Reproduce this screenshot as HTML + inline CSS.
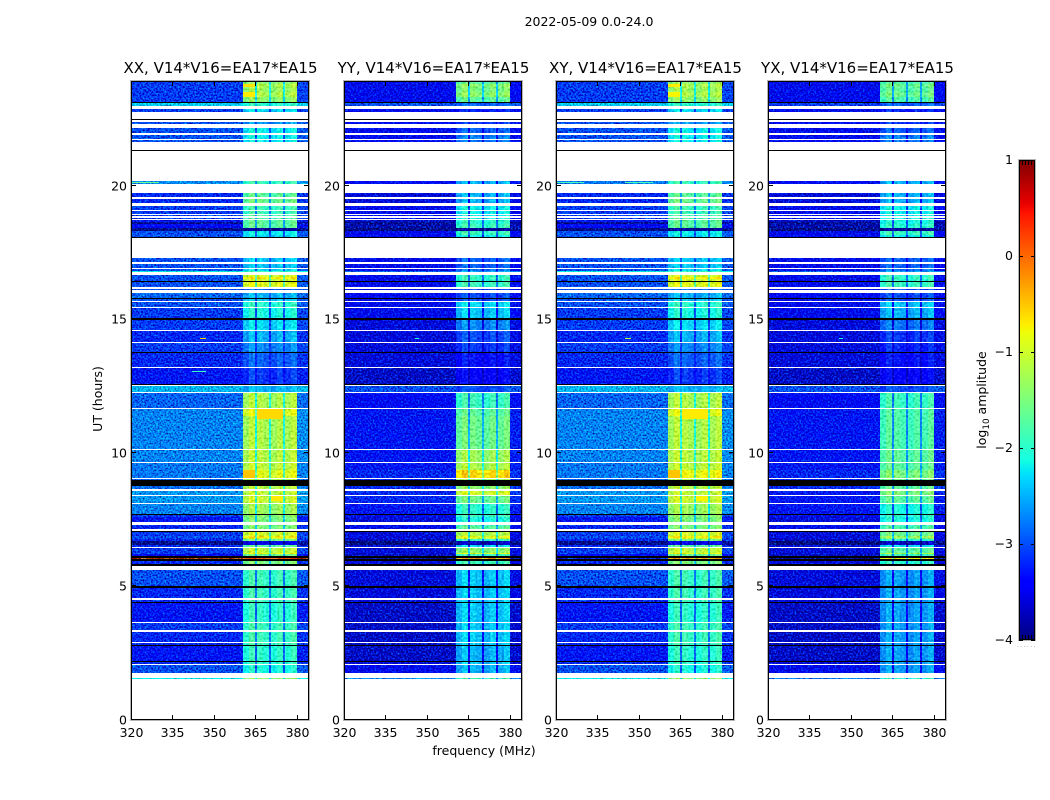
<!DOCTYPE html>
<html lang="en">
<head>
<meta charset="utf-8">
<title>2022-05-09 0.0-24.0</title>
<style>
html,body{margin:0;padding:0;background:#fff;}
svg{display:block;}
text{font-family:"DejaVu Sans","Liberation Sans",sans-serif;fill:#000;}
</style>
</head>
<body>
<svg id="fig" xmlns="http://www.w3.org/2000/svg" width="1050" height="800" viewBox="0 0 1050 800">
<defs>
<filter id="speckle" x="0" y="0" width="100%" height="100%" color-interpolation-filters="sRGB">
<feTurbulence type="fractalNoise" baseFrequency="0.6" numOctaves="1" seed="7" result="t"/>
<feColorMatrix in="t" type="matrix" values="0.5 0 0 0 0  1 0 0 0 0  1 0 0 0 0  0 0 0 0 1" result="g"/>
<feComposite in="SourceGraphic" in2="g" operator="arithmetic" k1="0" k2="1" k3="1.4" k4="-0.7" result="m"/>
<feComposite in="m" in2="SourceAlpha" operator="in"/>
</filter>
<filter id="speckle-band" x="0" y="0" width="100%" height="100%" color-interpolation-filters="sRGB">
<feTurbulence type="fractalNoise" baseFrequency="0.45" numOctaves="1" seed="11" result="t"/>
<feColorMatrix in="t" type="matrix" values="1 0 0 0 0  1 0 0 0 0  1 0 0 0 0  0 0 0 0 1" result="g"/>
<feComposite in="SourceGraphic" in2="g" operator="arithmetic" k1="0" k2="1" k3="0.6" k4="-0.3" result="m"/>
<feComposite in="m" in2="SourceAlpha" operator="in"/>
</filter>
</defs>
<text x="589" y="26" font-size="12.5" text-anchor="middle">2022-05-09 0.0-24.0</text>
<text x="484" y="755" font-size="12.5" text-anchor="middle">frequency (MHz)</text>
<text transform="translate(102,399) rotate(-90)" font-size="12.5" text-anchor="middle">UT (hours)</text>
<text transform="translate(986,400) rotate(-90)" font-size="12.5" text-anchor="middle">log<tspan font-size="8.8" dy="3">10</tspan><tspan dy="-3"> amplitude</tspan></text>
<g id="panels"></g>
<g id="colorbar"></g>
</svg>
<script>
const n = null;   // flagged data: left white
const b = -5;     // zero amplitude: drawn black
const panelTitles = ["XX, V14*V16=EA17*EA15","YY, V14*V16=EA17*EA15","XY, V14*V16=EA17*EA15","YX, V14*V16=EA17*EA15"];
const xTickLabels = [320,335,350,365,380];
const yTickLabels = [0,5,10,15,20];
const colorbarTicks = [1,0,-1,-2,-3,-4];
const utEdges = [
23.93,23.82,23.69,23.52,23.33,23.14,23.11,23.00,22.88,22.78,
22.51,22.47,22.41,22.33,22.17,21.97,21.91,21.84,21.82,21.75,
21.71,21.66,21.35,21.31,20.18,20.07,19.72,19.60,19.51,19.35,
19.26,19.10,19.05,18.95,18.90,18.86,18.81,18.76,18.71,18.65,
18.57,18.42,18.32,18.16,18.10,18.05,17.28,17.13,17.07,16.92,
16.87,16.82,16.76,16.66,16.59,16.50,16.45,16.41,16.22,16.12,
16.08,15.99,15.80,15.76,15.69,15.65,15.46,15.42,15.05,14.99,
14.60,14.56,14.15,14.11,13.77,13.74,13.21,13.17,12.58,12.54,
12.50,12.28,12.24,11.68,11.64,11.38,10.14,10.10,9.65,9.61,
9.35,9.05,9.01,8.98,8.76,8.64,8.58,8.41,8.38,8.11,
8.08,7.70,7.65,7.59,7.41,7.28,7.25,7.14,7.07,7.03,
6.88,6.82,6.78,6.69,6.54,6.45,6.42,6.25,6.20,6.13,
6.06,6.02,5.94,5.82,5.76,5.60,4.99,4.93,4.87,4.84,
4.54,4.49,4.42,4.38,3.65,3.62,3.35,3.28,2.90,2.85,
2.79,2.75,2.19,2.16,2.08,2.04,1.76,1.56,1.51];
const xxBackground = [
-3.1,-3.1,-3.1,-3.1,-3.1,b,-2.4,n,-3.1,n,
b,n,-3,n,-3,n,-3,n,-3,n,
-3,n,b,n,-2.7,n,-3.2,n,-3.2,n,
-3.1,n,-3.1,n,-3.1,n,-3.1,n,-3.3,-3.9,
-3.4,-3.95,-3,-3,b,n,-3,n,-3,n,
-3,-2.2,n,-3,-3,-3,b,-3,n,-3,
n,-2.9,b,-3,n,-3,n,-3.1,b,-3.1,
n,-3.2,n,-3.1,b,-3.2,n,-3.3,b,n,
-2.5,n,-2.9,n,-2.75,-2.75,n,-2.75,n,-2.8,
-2.8,n,-2.9,b,-2.85,n,-2.65,n,-2.65,n,
-2.75,b,-3.1,-3.3,n,-3.2,-3.2,n,b,-3.1,
-3,-3.1,-3.2,-3.95,-3.2,n,-3.1,-3.1,-3.4,b,
0.2,b,-3.2,b,n,-3,b,-3.2,n,-3.2,
n,-3.2,b,-3.3,n,-3.1,n,-3.2,n,-3.2,
b,-3.3,b,-3.2,n,-3,n,-2.2];
const xxBand = [
-1.4,-1.2,-1.3,-1.2,-1.4,b,-2,n,-2.3,n,
b,n,-2.6,n,-2.2,n,-2.2,n,-2.2,n,
-2.2,n,b,n,-1.9,n,-1.7,n,-1.6,n,
-1.9,n,-1.9,n,-1.8,n,-1.8,n,-1.7,-1.7,
-1.7,-3.9,-2.2,-2.3,b,n,-2.4,n,-2.4,n,
-2.3,-1.9,n,-1,-.7,-1,b,-.9,n,-2.8,
n,-2.5,b,-2.4,n,-2,n,-2.1,b,-2.3,
n,-2.5,n,-2.7,b,-2.9,n,-3.1,b,n,
-2.5,n,-1.2,n,-.9,-1.2,n,-1.15,n,-1.1,
-.9,n,-1.2,b,-1.15,n,-1.1,n,-1.05,n,
-1.3,b,-1.4,-1.5,n,-1.5,-1.5,n,b,-1,
-.7,-1,-1.5,-3.5,-1.7,n,-1.1,-.8,-1.6,b,
.1,b,-1.5,b,n,-1.9,b,-1.9,n,-1.9,
n,-1.9,b,-2,n,-1.9,n,-1.9,n,-1.9,
b,-2,b,-2,n,-2.1,n,-1.4];
const yyBackground = [
-3.5,-3.5,-3.5,-3.5,-3.5,b,-3,n,-3.5,n,
b,n,-3.4,n,-3.5,n,-3.5,n,-3.4,n,
-3.4,n,b,n,-3.4,n,-3.6,n,-3.6,n,
-3.5,n,-3.5,n,-3.5,n,-3.5,n,-3.7,-3.9,
-3.8,-3.95,-3.5,-3.4,b,n,-3.5,n,-3.5,n,
-3.5,-2.9,n,-3.5,-3.5,-3.5,b,-3.5,n,-3.5,
n,-3.4,b,-3.5,n,-3.5,n,-3.5,b,-3.6,
n,-3.6,n,-3.6,b,-3.6,n,-3.7,b,n,
-3,n,-3.4,n,-3.3,-3.3,n,-3.3,n,-3.3,
-3.2,n,-3.2,b,-3.2,n,-3.2,n,-3.2,n,
-3.3,b,-3.5,-3.6,n,-3.5,-3.5,n,b,-3.6,
-3.6,-3.6,-3.7,-4,-3.6,n,-3.6,-3.6,-3.7,b,
-3.9,b,-3.6,b,n,-3.6,b,-3.6,n,-3.6,
n,-3.6,b,-3.7,n,-3.7,n,-3.7,n,-3.7,
b,-3.7,b,-3.6,n,-3.5,n,-2.7];
const yyBand = [
-1.7,-1.4,-1.5,-1.4,-1.7,b,-2.9,n,-3.2,n,
b,n,-3.1,n,-2.9,n,-2.8,n,-2.7,n,
-2.8,n,b,n,-2.5,n,-2.5,n,-2.5,n,
-2.2,n,-2.2,n,-2.2,n,-2.1,n,-2,-2,
-1.9,-3.9,-1.9,-2.2,b,n,-2.9,n,-2.9,n,
-2.8,-2.6,n,-2,-1.9,-2,b,-1.9,n,-3,
n,-3,b,-3,n,-2.3,n,-2.4,b,-2.7,
n,-3,n,-3.1,b,-3.3,n,-3.4,b,n,
-3,n,-1.9,n,-1.7,-1.6,n,-1.3,n,-1.2,
-.6,n,-1.3,b,-1.4,n,-1,n,-1.6,n,
-2,b,-1.9,-2.1,n,-1.9,-1.7,n,b,-1.2,
-.9,-1.1,-1.9,-3.7,-2.3,n,-1.4,-.9,-1.9,b,
-.3,b,-1.9,b,n,-2.4,b,-2.4,n,-2.4,
n,-2.4,b,-2.4,n,-2.4,n,-2.4,n,-2.4,
b,-2.5,b,-2.4,n,-2.5,n,-1.9];
const xyBackground = [
-3.1,-3.1,-3.1,-3.1,-3.1,b,-2.4,n,-3.1,n,
b,n,-3,n,-3,n,-3,n,-3,n,
-3,n,b,n,-2.8,n,-3.2,n,-3.2,n,
-3.1,n,-3.1,n,-3.1,n,-3.1,n,-3.3,-3.9,
-3.4,-3.95,-3,-3,b,n,-3,n,-3,n,
-3,-2.2,n,-3,-3,-3,b,-3,n,-3,
n,-2.9,b,-3,n,-3,n,-3.1,b,-3.1,
n,-3.2,n,-3.1,b,-3.2,n,-3.3,b,n,
-2.5,n,-2.9,n,-2.75,-2.75,n,-2.75,n,-2.8,
-2.8,n,-2.9,b,-2.85,n,-2.65,n,-2.65,n,
-2.75,b,-3.1,-3.3,n,-3.2,-3.2,n,b,-3.1,
-3,-3.1,-3.2,-3.95,-3.2,n,-3.1,-3.1,-3.4,b,
-3.2,b,-3.2,b,n,-3,b,-3.2,n,-3.2,
n,-3.2,b,-3.3,n,-3.1,n,-3.2,n,-3.2,
b,-3.3,b,-3.2,n,-3,n,-2.2];
const xyBand = [
-1.4,-1.2,-1.3,-1.2,-1.4,b,-2,n,-2.3,n,
b,n,-2.6,n,-2.2,n,-2.2,n,-2.2,n,
-2.2,n,b,n,-1.9,n,-1.7,n,-1.6,n,
-1.9,n,-1.9,n,-1.8,n,-1.8,n,-1.7,-1.7,
-1.7,-3.9,-2.2,-2.3,b,n,-2.4,n,-2.4,n,
-2.3,-1.9,n,-1,-.7,-1,b,-.9,n,-2.8,
n,-2.5,b,-2.4,n,-2,n,-2.1,b,-2.3,
n,-2.5,n,-2.7,b,-2.9,n,-3.1,b,n,
-2.5,n,-1.2,n,-.9,-1.2,n,-1.15,n,-1.1,
-.8,n,-1.2,b,-1.15,n,-1.1,n,-1.05,n,
-1.3,b,-1.4,-1.5,n,-1.5,-1.5,n,b,-1,
-.7,-1,-1.5,-3.5,-1.7,n,-1.1,-.8,-1.6,b,
-.4,b,-1.5,b,n,-1.9,b,-1.9,n,-1.9,
n,-1.9,b,-2,n,-1.9,n,-1.9,n,-1.9,
b,-2,b,-2,n,-2.1,n,-1.4];
const yxBackground = [
-3.5,-3.5,-3.5,-3.5,-3.5,b,-3.1,n,-3.5,n,
b,n,-3.4,n,-3.5,n,-3.5,n,-3.4,n,
-3.4,n,b,n,-3.4,n,-3.6,n,-3.6,n,
-3.5,n,-3.5,n,-3.5,n,-3.5,n,-3.7,-3.9,
-3.8,-3.95,-3.5,-3.4,b,n,-3.5,n,-3.5,n,
-3.5,-2.9,n,-3.5,-3.5,-3.5,b,-3.5,n,-3.5,
n,-3.4,b,-3.5,n,-3.5,n,-3.5,b,-3.6,
n,-3.6,n,-3.6,b,-3.6,n,-3.7,b,n,
-3,n,-3.4,n,-3.3,-3.3,n,-3.3,n,-3.3,
-3.2,n,-3.2,b,-3.2,n,-3.3,n,-3.3,n,
-3.3,b,-3.5,-3.6,n,-3.5,-3.5,n,b,-3.6,
-3.6,-3.6,-3.7,-4,-3.6,n,-3.6,-3.6,-3.7,b,
-3.9,b,-3.6,b,n,-3.6,b,-3.6,n,-3.6,
n,-3.6,b,-3.7,n,-3.7,n,-3.7,n,-3.7,
b,-3.7,b,-3.6,n,-3.5,n,-2.8];
const yxBand = [
-1.8,-1.6,-1.7,-1.6,-1.8,b,-2.9,n,-3.2,n,
b,n,-3.1,n,-2.9,n,-2.8,n,-2.7,n,
-2.8,n,b,n,-2.5,n,-2.5,n,-2.5,n,
-2.2,n,-2.2,n,-2.2,n,-2.1,n,-2.1,-2.1,
-2,-3.9,-1.9,-2.2,b,n,-2.9,n,-2.9,n,
-2.8,-2.6,n,-2,-1.9,-2,b,-1.9,n,-3,
n,-3,b,-3,n,-2.4,n,-2.5,b,-2.8,
n,-3.1,n,-3.2,b,-3.3,n,-3.4,b,n,
-3,n,-1.9,n,-1.8,-1.8,n,-1.7,n,-1.7,
-1.5,n,-1.6,b,-1.7,n,-1.5,n,-1.7,n,
-2.1,b,-2,-2.1,n,-1.9,-1.8,n,b,-1.6,
-1.3,-1.5,-2,-3.7,-2.3,n,-1.7,-1.2,-1.9,b,
-.8,b,-2,b,n,-2.6,b,-2.6,n,-2.6,
n,-2.6,b,-2.6,n,-2.6,n,-2.6,n,-2.6,
b,-2.6,b,-2.6,n,-2.6,n,-2];
const backgroundSeries = [xxBackground,yyBackground,xyBackground,yxBackground];
const bandSeries = [xxBand,yyBand,xyBand,yxBand];
// channel groups, MHz
const channelEdges = [320,360.6,362.8,364.7,365.6,367.7,369.8,370.7,372.8,374.9,375.8,378,380.1,384.4];
const channelKinds = ["bg","band","band","gap","band","band","gap","band","band","gap","band","band","edge"];
const bandOffsets = [0,-0.1,0.12,0,0.05,-0.05,0,-0.1,0.05,0,-0.05,0.1,0];
const gapDrop = 0.9;
// narrow-band interference and hot patches
const spotPanel = [0,0,0,2,2,1,3,0,0,0,0,2,2,2,2,2,0,2];
const spotUtStart = [14.31,13.08,20.16,14.31,20.16,14.31,14.31,11.64,9.35,23.82,23.52,11.64,9.35,20.16,23.82,23.52,8.38,8.38];
const spotUtEnd = [14.27,13.04,20.1,14.27,20.1,14.27,14.27,11.25,9.05,23.69,23.33,11.25,9.05,20.1,23.69,23.33,8.2,8.2];
const spotFreqStart = [345,342,320,345,320,345.5,345.5,365.6,360.6,360.6,360.6,365.6,360.6,345,360.6,360.6,370.7,370.7];
const spotFreqEnd = [347,347,330,347,330,347,347,374.9,364.7,364.7,364.7,374.9,364.7,355,364.7,364.7,374.9,374.9];
const spotValue = [-0.6,-1.9,-1.6,-1.2,-1.8,-2,-2.1,-0.6,-0.5,-0.65,-0.7,-0.7,-0.5,-1.8,-0.7,-0.75,-0.7,-0.75];

const svgNS = "http://www.w3.org/2000/svg";
const panelLefts = [131,344,556,768];
const panelWidth = 177, frameWidth = 178, panelTop = 81, panelBottom = 720;
function xScale(left,f){return left+(f-320)*panelWidth/64;}
function yScale(ut){return 719.5-ut*26.68;}
function cbarY(v){return 160+(1-v)*96;}
function lerp(pts,t){
  for(let i=1;i<pts.length;i++){
    if(t<=pts[i][0]){
      const a=pts[i-1],c=pts[i];
      return a[1]+(c[1]-a[1])*(t-a[0])/(c[0]-a[0]);
    }
  }
  return pts[pts.length-1][1];
}
const jetR=[[0,0],[.35,0],[.66,1],[.89,1],[1,.5]];
const jetG=[[0,0],[.125,0],[.375,1],[.64,1],[.91,0],[1,0]];
const jetB=[[0,.5],[.11,1],[.34,1],[.65,0],[1,0]];
function color(v){
  if(v<=-4.5) return "#000";
  const t=Math.max(0,Math.min(1,(v+4)/5));
  return "rgb("+Math.round(255*lerp(jetR,t))+","+Math.round(255*lerp(jetG,t))+","+Math.round(255*lerp(jetB,t))+")";
}
function mk(tag,attrs,parent){
  const e=document.createElementNS(svgNS,tag);
  for(const k in attrs) e.setAttribute(k,attrs[k]);
  parent.appendChild(e);
  return e;
}
function tickLine(parent,x1,y1,x2,y2){
  const t=mk("line",{x1:x1,y1:y1,x2:x2,y2:y2,stroke:"#000","stroke-width":1},parent);
  
  
  return t;
}
function cell(parent,x0,x1,y0,y1,v){
  const r=mk("rect",{x:x0,y:y0,width:x1-x0,height:y1-y0,fill:color(v)},parent);
  
  
}
function label(parent,x,y,s,anchor){
  const t=mk("text",{x:x,y:y,"font-size":12.5,"text-anchor":anchor},parent);
  t.textContent=s;
  
  
  return t;
}
const panelsRoot=document.getElementById("panels");
panelTitles.forEach(function(title,p){
  const left=panelLefts[p];
  const g=mk("g",{},panelsRoot);
  
  
  const bgCells=mk("g",{filter:"url(#speckle)","shape-rendering":"crispEdges"},g);
  
  
  const bandCells=mk("g",{filter:"url(#speckle-band)","shape-rendering":"crispEdges"},g);
  
  
  const blackCells=mk("g",{"shape-rendering":"crispEdges"},g);
  
  
  const bg=backgroundSeries[p], band=bandSeries[p];
  for(let r=0;r<utEdges.length-1;r++){
    if(bg[r]===null) continue;
    const y0=Math.round(yScale(utEdges[r]));
    const y1=Math.max(y0+1,Math.round(yScale(utEdges[r+1])));
    channelKinds.forEach(function(kind,c){
      const x0=Math.round(xScale(left,channelEdges[c]));
      const x1=Math.round(xScale(left,channelEdges[c+1]));
      let v=bg[r];
      if(v>-4.5){
        if(kind==="band") v=band[r]+bandOffsets[c];
        else if(kind==="gap") v=Math.max(bg[r],band[r]-gapDrop);
        else if(kind==="edge") v=bg[r]+0.05;
      }
      const target=v<=-4.5?blackCells:((kind==="bg"||kind==="edge")?bgCells:bandCells);
      cell(target,x0,x1,y0,y1,v);
    });
  }
  spotPanel.forEach(function(sp,i){
    if(sp!==p) return;
    const y0=Math.round(yScale(spotUtStart[i]));
    const y1=Math.max(y0+1,Math.round(yScale(spotUtEnd[i])));
    cell(blackCells,Math.round(xScale(left,spotFreqStart[i])),Math.round(xScale(left,spotFreqEnd[i])),y0,y1,spotValue[i]);
  });
  const halo=mk("rect",{x:left-.5,y:panelTop-.5,width:frameWidth+1,height:panelBottom-panelTop+1,fill:"none",stroke:"#b4b4b4","stroke-width":1},g);
  
  
  const frame=mk("rect",{x:left+.5,y:panelTop+.5,width:frameWidth-1,height:panelBottom-panelTop-1,fill:"none",stroke:"#000","stroke-width":1},g);
  
  
  const tt=mk("text",{x:left+frameWidth/2+.5,y:73,"font-size":15,"text-anchor":"middle"},g);
  tt.textContent=title;
  
  
  xTickLabels.forEach(function(f){
    const x=Math.round(xScale(left,f))+.5;
    tickLine(g,x,panelBottom,x,panelBottom-5);
    tickLine(g,x,panelTop,x,panelTop+5);
    label(g,x,737,String(f),"middle");
  });
  yTickLabels.forEach(function(u){
    const y=Math.round(yScale(u))-.5;
    tickLine(g,left,y,left+5,y);
    tickLine(g,left+frameWidth,y,left+frameWidth-5,y);
    label(g,left-4,y+5,String(u),"end");
  });
});
const cb=document.getElementById("colorbar");
const cbCells=mk("g",{"shape-rendering":"crispEdges"},cb);


for(let y=160;y<640;y+=2){
  const v=1-(y+1-160)/96;
  const r=mk("rect",{x:1019,y:y,width:16,height:2,fill:color(v)},cbCells);
  
  
}
const cbHalo=mk("rect",{x:1018.5,y:159.5,width:17,height:481,fill:"none",stroke:"#b4b4b4","stroke-width":1},cb);


const cbFrame=mk("rect",{x:1019.5,y:160.5,width:15,height:479,fill:"none",stroke:"#000","stroke-width":1},cb);


colorbarTicks.forEach(function(v){
  const y=Math.round(cbarY(v))+.5;
  tickLine(cb,1019,y,1023,y);
  tickLine(cb,1035,y,1031,y);
  label(cb,1013,cbarY(v)+4,v<0?"\u2212"+(-v):String(v),"end");
});
[1022,1025,1028,1031].forEach(function(x){
  tickLine(cb,x+.5,161,x+.5,165);
  tickLine(cb,x+.5,640,x+.5,635);
});
const dots=mk("text",{x:1017,y:647,"font-size":6,"letter-spacing":1.4},cb);
dots.textContent="......";
dots.setAttribute('fill','#888');
dots.style.fill='#888';


</script>
</body>
</html>
